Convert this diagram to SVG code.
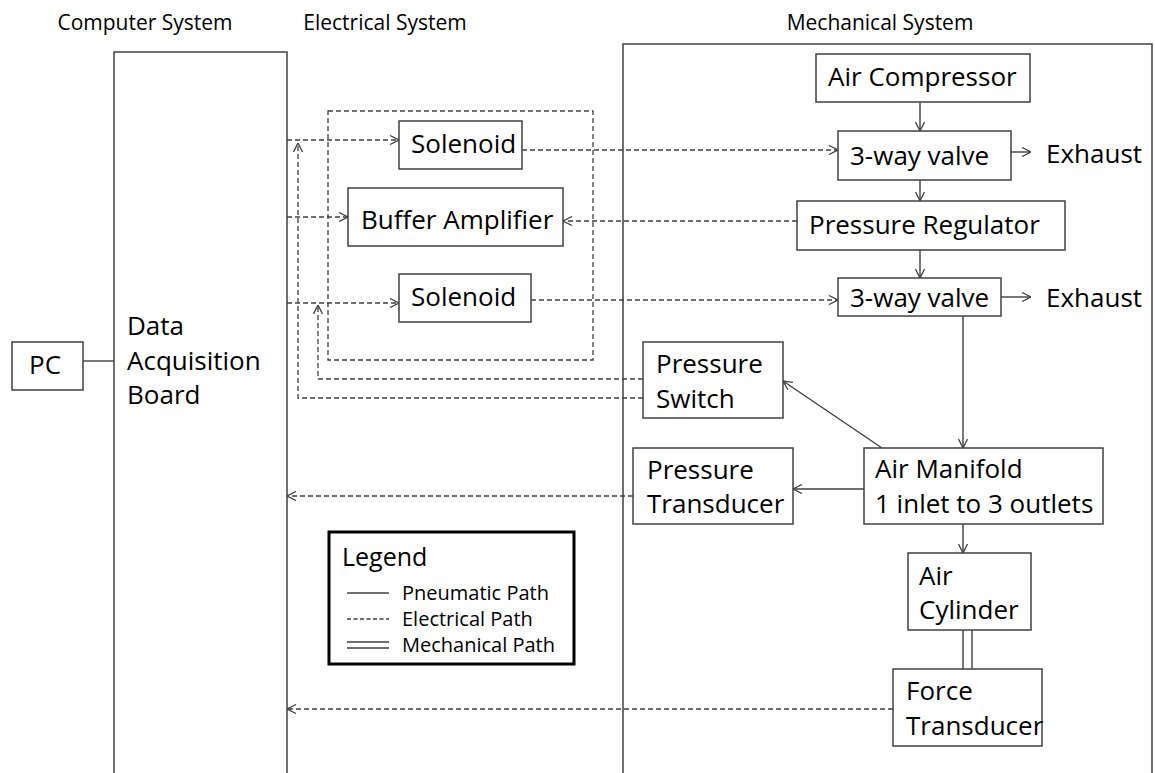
<svg xmlns="http://www.w3.org/2000/svg" width="1155" height="773" viewBox="0 0 1155 773">
<defs>
<marker id="arr" viewBox="0 0 10 10" refX="10" refY="5" markerWidth="10" markerHeight="10" markerUnits="userSpaceOnUse" orient="auto">
<path d="M1,0.5 L10,5 L1,9.5" fill="none" stroke="#404040" stroke-width="1.3"/>
</marker>
</defs>
<style>
text{font-family:"Open Sans","DejaVu Sans",sans-serif;fill:#000}
.h{font-size:21px;text-anchor:middle}
.t{font-size:26px}
.l{font-size:20px}
.box{fill:#fff;stroke:#404040;stroke-width:1.5}
.frame{fill:none;stroke:#404040;stroke-width:1.5}
.p{fill:none;stroke:#404040;stroke-width:1.4}
.e{fill:none;stroke:#404040;stroke-width:1.3;stroke-dasharray:5,3}
.a{marker-end:url(#arr)}
</style>
<rect width="1155" height="773" fill="#fff"/>
<g id="headers">
<text class="h" x="145" y="30">Computer System</text>
<text class="h" x="385" y="30">Electrical System</text>
<text class="h" x="880" y="30">Mechanical System</text>
</g>
<g id="frames">
<path class="frame" d="M114,780 V52 H287 V780"/>
<path class="frame" d="M623,780 V44 H1152 V780"/>
<rect class="e" x="328" y="111" width="265" height="249"/>
</g>
<g id="connectors">
<path class="p" d="M83,361 H114"/>
<path class="e a" d="M287,140 H399"/>
<path class="e a" d="M287,217 H348"/>
<path class="e a" d="M287,303 H399"/>
<path class="e a" d="M522,150 H838"/>
<path class="e a" d="M797,221 H563"/>
<path class="e a" d="M531,300 H838"/>
<path class="e a" d="M643,398 H298 V143"/>
<path class="e a" d="M643,379 H318 V305"/>
<path class="e a" d="M633,496 H287"/>
<path class="e a" d="M893,709 H287"/>
<path class="p a" d="M920,103 V131"/>
<path class="p a" d="M920,173 V201"/>
<path class="p a" d="M920,250 V278"/>
<path class="p a" d="M1000,152 H1031"/>
<path class="p a" d="M1001,297 H1031"/>
<path class="p a" d="M963,316 V448"/>
<path class="p a" d="M882,448 L783,381"/>
<path class="p a" d="M864,489 H793"/>
<path class="p a" d="M963,524 V553"/>
<path class="p" d="M963,630 V669 M972,630 V669"/>
</g>
<g id="dab">
<text class="t" x="127" y="335">Data</text>
<text class="t" x="127" y="370">Acquisition</text>
<text class="t" x="127" y="404">Board</text>
</g>
<g id="pc"><rect class="box" x="12" y="342" width="71" height="48"/><text class="t" x="29" y="374">PC</text></g>
<g id="solenoid1"><rect class="box" x="399" y="121" width="123" height="48"/><text class="t" x="411" y="153">Solenoid</text></g>
<g id="buffer"><rect class="box" x="348" y="188" width="215" height="58"/><text class="t" x="361" y="229">Buffer Amplifier</text></g>
<g id="solenoid2"><rect class="box" x="399" y="274" width="132" height="48"/><text class="t" x="411" y="306">Solenoid</text></g>
<g id="compressor"><rect class="box" x="816" y="54" width="214" height="48"/><text class="t" x="828" y="86">Air Compressor</text></g>
<g id="valve1"><rect class="box" x="838" y="131" width="173" height="49"/><text class="t" x="850" y="165">3-way valve</text></g>
<g id="exhaust1"><text class="t" x="1046" y="163">Exhaust</text></g>
<g id="regulator"><rect class="box" x="797" y="201" width="268" height="49"/><text class="t" x="809" y="234">Pressure Regulator</text></g>
<g id="valve2"><rect class="box" x="838" y="278" width="163" height="38"/><text class="t" x="850" y="307">3-way valve</text></g>
<g id="exhaust2"><text class="t" x="1046" y="307">Exhaust</text></g>
<g id="pswitch"><rect class="box" x="643" y="342" width="140" height="76"/><text class="t" x="656" y="373">Pressure</text><text class="t" x="656" y="408">Switch</text></g>
<g id="ptrans"><rect class="box" x="633" y="448" width="160" height="76"/><text class="t" x="647" y="479">Pressure</text><text class="t" x="647" y="513">Transducer</text></g>
<g id="manifold"><rect class="box" x="864" y="448" width="239" height="76"/><text class="t" x="875" y="478">Air Manifold</text><text class="t" x="875" y="513">1 inlet to 3 outlets</text></g>
<g id="cylinder"><rect class="box" x="908" y="553" width="123" height="77"/><text class="t" x="919" y="585">Air</text><text class="t" x="919" y="619">Cylinder</text></g>
<g id="ftrans"><rect class="box" x="893" y="669" width="149" height="77"/><text class="t" x="906" y="700">Force</text><text class="t" x="906" y="735">Transducer</text></g>
<g id="legend">
<rect x="329" y="532" width="245" height="132" fill="#fff" stroke="#000" stroke-width="3"/>
<text x="342" y="566" style="font-size:25px">Legend</text>
<path class="p" d="M347,593 H389"/>
<text class="l" x="402" y="600">Pneumatic Path</text>
<path class="e" d="M347,619 H389" style="stroke-dasharray:4,2.5"/>
<text class="l" x="402" y="626">Electrical Path</text>
<path class="p" d="M347,642 H389 M347,648 H389"/>
<text class="l" x="402" y="652">Mechanical Path</text>
</g>
</svg>
